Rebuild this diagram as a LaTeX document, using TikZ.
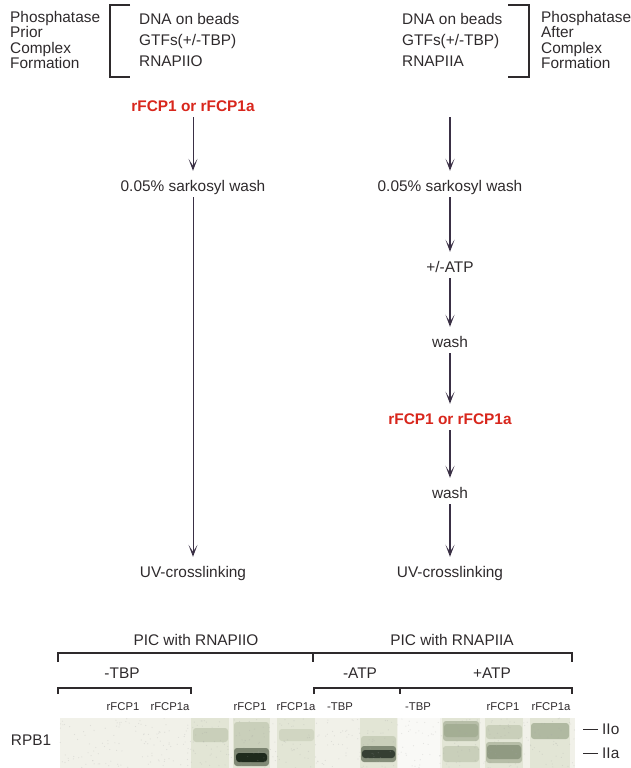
\documentclass[tikz,border=0pt]{standalone}
\usepackage{fontspec}
\setmainfont{Liberation Sans}
\usetikzlibrary{arrows.meta,positioning}
\definecolor{ink}{HTML}{2E2A2C}
\definecolor{arrowc}{HTML}{3A3045}
\definecolor{fcpred}{HTML}{D8261C}
\definecolor{gelbg}{HTML}{F1F1E9}
\definecolor{lanebg}{HTML}{E2E5D5}
\definecolor{bandfaint}{HTML}{C9CFBA}
\definecolor{bandmid}{HTML}{A4AE94}
\definecolor{banddark}{HTML}{1E2A1C}

\begin{document}
\begin{tikzpicture}[x=1pt, y=-1pt,
  txt/.style={text=ink, inner sep=0pt, text height=11.5pt, text depth=3.5pt, font=\fontsize{15.4}{15.5}\selectfont},
  enz/.style={txt, text=fcpred, font=\fontsize{15.4}{15.5}\selectfont\bfseries},
  blk/.style={text=ink, inner sep=0pt, align=left, anchor=west},
  lanelbl/.style={text=ink, inner sep=0pt, font=\fontsize{11.3}{12}\selectfont},
  arrow/.style={-{Stealth[length=12pt, width=9pt, inset=7pt]}, draw=arrowc, shorten <=2pt, shorten >=9pt},
  brk/.style={draw=ink, line width=1.3pt},
  band/.style={rounded corners=3pt},
]
\useasboundingbox (0,0) rectangle (631,768);

% 左側：前
\node[blk, font=\fontsize{15.4}{15.5}\selectfont] (prior) at (10,40) {Phosphatase\\Prior\\Complex\\Formation};
\node[blk, font=\fontsize{15.4}{21}\selectfont] (mixL) at (139,40) {DNA on beads\\GTFs(+/-TBP)\\RNAPIIO};
\draw[brk] (130,5) -- (110,5) -- (110,77) -- (130,77);

% 右側：後
\node[blk, font=\fontsize{15.4}{21}\selectfont] (mixR) at (402,40) {DNA on beads\\GTFs(+/-TBP)\\RNAPIIA};
\node[blk, font=\fontsize{15.4}{15.5}\selectfont] (after) at (541,40) {Phosphatase\\After\\Complex\\Formation};
\draw[brk] (508,5) -- (529,5) -- (529,77) -- (508,77);

% 左の流れ
\node[enz] (fcpL) at (193,107.5) {rFCP1 or rFCP1a};
\node[txt] (sarkL) at (193,187.5) {0.05\% sarkosyl wash};
\node[txt] (uvL) at (193,573.5) {UV-crosslinking};
\draw[arrow, line width=1pt] (fcpL) -- (sarkL);
\draw[arrow, line width=1pt] (sarkL) -- (uvL);

% 右の流れ
\coordinate (topR) at (450,115);
\node[txt] (sarkR) at (450,187.5) {0.05\% sarkosyl wash};
\node[txt] (atp) at (450,268.5) {+/-ATP};
\node[txt] (washA) at (450,343.5) {wash};
\node[enz] (fcpR) at (450,420.5) {rFCP1 or rFCP1a};
\node[txt] (washB) at (450,494.5) {wash};
\node[txt] (uvR) at (450,573.5) {UV-crosslinking};
\draw[arrow, line width=1.5pt] (topR) -- (sarkR);
\draw[arrow, line width=1.5pt] (sarkR) -- (atp);
\draw[arrow, line width=1.5pt] (atp) -- (washA);
\draw[arrow, line width=1.5pt] (washA) -- (fcpR);
\draw[arrow, line width=1.5pt] (fcpR) -- (washB);
\draw[arrow, line width=1.5pt] (washB) -- (uvR);

% ゲルの見出し
\node[txt] (picO) at (196,641.5) {PIC with RNAPIIO};
\node[txt] (picA) at (452,641.5) {PIC with RNAPIIA};
\draw[brk, line width=2pt] (58,662) -- (58,653) -- (572,653) -- (572,662);
\draw[brk, line width=2pt] (313,653) -- (313,662);
\node[txt] (noTBP) at (122,674.5) {-TBP};
\node[txt] (noATP) at (360,674.5) {-ATP};
\node[txt] (withATP) at (492,674.5) {+ATP};
\draw[brk] (58,694) -- (58,688) -- (191,688) -- (191,694);
\draw[brk] (314,694) -- (314,688) -- (572,688) -- (572,694);
\draw[brk] (400,688) -- (400,694);

% レーン名
\node[lanelbl] (l2) at (123,707) {rFCP1};
\node[lanelbl] (l3) at (170,707) {rFCP1a};
\node[lanelbl] (l5) at (250,707) {rFCP1};
\node[lanelbl] (l6) at (296,707) {rFCP1a};
\node[lanelbl] (l7) at (340,707) {-TBP};
\node[lanelbl] (l9) at (418,707) {-TBP};
\node[lanelbl] (l11) at (503,707) {rFCP1};
\node[lanelbl] (l12) at (551,707) {rFCP1a};

% ゲル
\fill[gelbg] (60,718) rectangle (575,768);
\fill[white!60!gelbg] (398,718) rectangle (440,768);
\foreach \a/\b in {191/229, 233/270, 277/315, 360/397, 442/480, 485/523, 530/570}
  \fill[lanebg] (\a,718) rectangle (\b,768);
% バンド
\fill[band, bandfaint] (193,728) rectangle (228,742);
\fill[band, bandfaint] (234,722) rectangle (269,752);
\fill[band, banddark!45!bandmid, opacity=.8] (234,748) rectangle (269,766);
\fill[band, banddark] (236,753) rectangle (267,762);
\fill[band, bandfaint!70!lanebg] (279,729) rectangle (314,741);
\fill[band, bandfaint] (361,736) rectangle (396,752);
\fill[band, banddark!40!bandmid, opacity=.8] (361,746) rectangle (396,762);
\fill[band, banddark!90] (362,750) rectangle (395,758);
\fill[band, bandmid!70!lanebg] (443,721) rectangle (479,741);
\fill[band, bandmid] (444,724) rectangle (478,737);
\fill[band, bandfaint] (443,746) rectangle (479,762);
\fill[band, bandfaint] (486,725) rectangle (522,739);
\fill[band, bandmid!70!lanebg] (486,742) rectangle (522,763);
\fill[band, bandmid!85!banddark] (487,745) rectangle (521,759);
\fill[band, bandmid!80!lanebg] (531,723) rectangle (569,739);
% 斑点
\pgfmathsetseed{17}
\foreach \i in {1,...,500}
  \fill[black!35, opacity=.25] ({60+515*rnd},{718+50*rnd}) circle (0.6);

\node[txt] (rpb) at (31,741.5) {RPB1};
\node[txt, anchor=west] (iio) at (602,730.5) {IIo};
\node[txt, anchor=west] (iia) at (602,754.5) {IIa};
\draw[draw=ink, line width=1pt] ([xshift=-4pt, yshift=1.5pt]iio.west) -- ([xshift=-19pt, yshift=1.5pt]iio.west);
\draw[draw=ink, line width=1pt] ([xshift=-4pt, yshift=1.5pt]iia.west) -- ([xshift=-19pt, yshift=1.5pt]iia.west);

\end{tikzpicture}
\end{document}
